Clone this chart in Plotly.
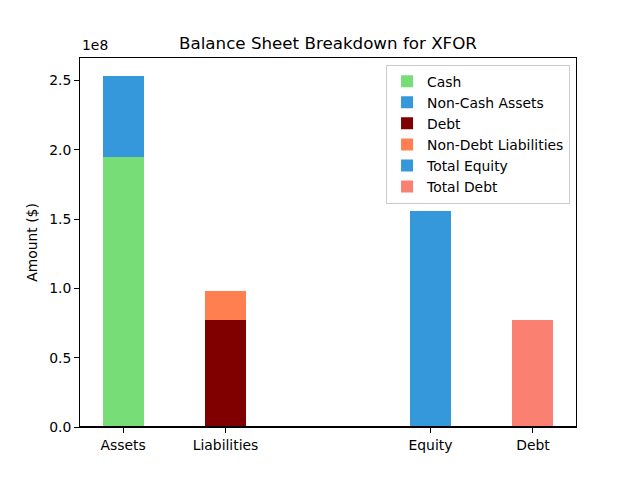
import plotly.graph_objects as go

categories = ["Assets", "Liabilities", "Equity", "Debt"]
positions = [0, 1, 3, 4]

cash = 1.952e8
non_cash_assets = 0.584e8
debt = 0.771e8
non_debt_liabilities = 0.209e8
total_equity = 1.556e8
total_debt = 0.771e8

ytick_vals = [0, 0.5e8, 1.0e8, 1.5e8, 2.0e8, 2.5e8]
ytick_text = ["0.0", "0.5", "1.0", "1.5", "2.0", "2.5"]

fig = go.Figure()
W = 0.4
fig.add_trace(go.Bar(x=[positions[0]], y=[cash], name="Cash", marker_color="#77dd77", width=W))
fig.add_trace(go.Bar(x=[positions[0]], y=[non_cash_assets], name="Non-Cash Assets", marker_color="#3498db", width=W))
fig.add_trace(go.Bar(x=[positions[1]], y=[debt], name="Debt", marker_color="#800000", width=W))
fig.add_trace(go.Bar(x=[positions[1]], y=[non_debt_liabilities], name="Non-Debt Liabilities", marker_color="#ff7f50", width=W))
fig.add_trace(go.Bar(x=[positions[2]], y=[total_equity], name="Total Equity", marker_color="#3498db", width=W))
fig.add_trace(go.Bar(x=[positions[3]], y=[total_debt], name="Total Debt", marker_color="#fa8072", width=W))

for tr in fig.data:
    tr.marker.line.width = 0

ymax = (cash + non_cash_assets) * 1.05

# page body has an 8px margin; compensate so the chart lands where the reference has it
fig.update_layout(
    barmode="stack",
    width=632, height=472,
    margin=dict(l=72, r=64, t=49.6, b=52.8),
    paper_bgcolor="white", plot_bgcolor="white",
    font=dict(family="DejaVu Sans", size=13.9, color="black"),
    title=dict(text="Balance Sheet Breakdown for XFOR", x=0.5, xanchor="center",
               xref="paper", y=1 - 35 / 472, yanchor="middle", font=dict(size=16.7)),
    showlegend=True,
    legend=dict(x=0.988, y=0.982, xanchor="right", yanchor="top",
                bordercolor="#cccccc", borderwidth=1, bgcolor="rgba(255,255,255,0.8)",
                font=dict(size=13.9), tracegroupgap=0, itemwidth=30, traceorder="normal"),
    xaxis=dict(range=[-0.42, 4.42], tickvals=positions, ticktext=categories,
               showgrid=False, zeroline=False, showline=True, linecolor="black", linewidth=1,
               mirror=True, ticks="outside", ticklen=5, tickcolor="black", automargin=False),
    yaxis=dict(range=[0, ymax], tickvals=ytick_vals, ticktext=ytick_text,
               showgrid=False, zeroline=False, showline=True, linecolor="black", linewidth=1,
               mirror=True, ticks="outside", ticklen=5, tickcolor="black", automargin=False,
               title=dict(text="Amount ($)", standoff=8, font=dict(size=13.9))),
)
fig.add_shape(type="line", xref="paper", yref="y", x0=0, x1=1, y0=0, y1=0,
              line=dict(color="black", width=2))
fig.add_annotation(text="1e8", xref="paper", yref="paper", x=0, y=1, xanchor="left",
                   yanchor="bottom", showarrow=False, yshift=3, font=dict(size=13.9))

fig.write_html("out.html")
